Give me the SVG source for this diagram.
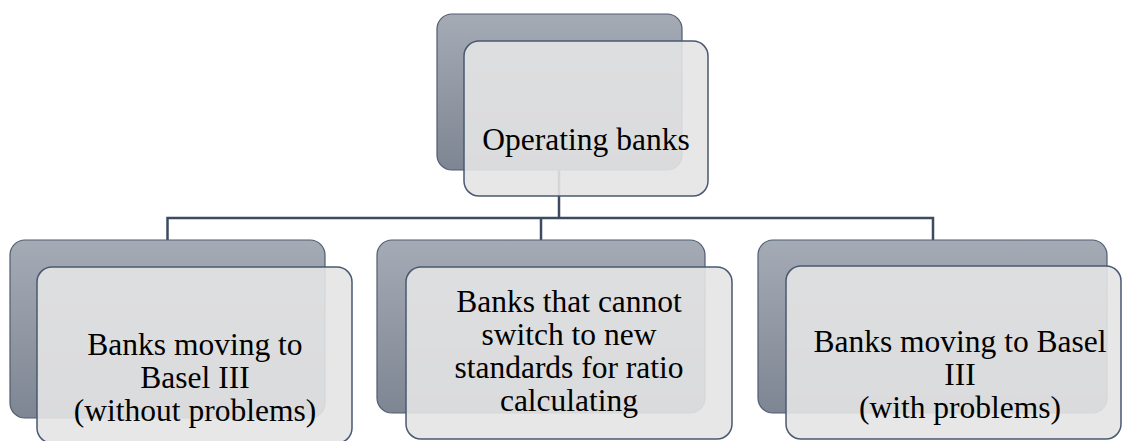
<svg xmlns="http://www.w3.org/2000/svg" width="1123" height="441" viewBox="0 0 1123 441">
  <defs>
    <linearGradient id="backGrad" x1="0" y1="0" x2="0" y2="1">
      <stop offset="0" stop-color="#a5abb5"/>
      <stop offset="1" stop-color="#7e8693"/>
    </linearGradient>
    <style>
      .back { fill: url(#backGrad); stroke: #4f5c70; stroke-width: 1.2; }
      .front { fill: #e4e4e4; fill-opacity: 0.9; stroke: #4a5972; stroke-width: 1.5; }
      .conn { fill: none; stroke: #3d4b62; stroke-width: 2.5; }
      .label { font-family: 'Liberation Serif', 'Times New Roman', serif; font-size: 31.5px; fill: #000; text-anchor: middle; }
    </style>
  </defs>
  <rect width="1123" height="441" fill="#ffffff"/>
  <g id="connectors">
    <path class="conn" d="M559,170 V218"/>
    <path class="conn" d="M167.5,240 V218 H933 V240"/>
    <path class="conn" d="M541,218 V240"/>
  </g>
  <g id="node-operating">
    <rect class="back" x="437" y="14" width="245" height="156" rx="15"/>
    <rect class="front" x="464" y="41" width="244" height="155" rx="15"/>
    <text class="label" x="586" y="150">Operating banks</text>
  </g>
  <g id="node-without">
    <rect class="back" x="10" y="240" width="315" height="178" rx="15"/>
    <rect class="front" x="37" y="267" width="315" height="176" rx="15"/>
    <text class="label" x="195" y="355">Banks moving to</text>
    <text class="label" x="195" y="388">Basel III</text>
    <text class="label" x="195" y="421">(without problems)</text>
  </g>
  <g id="node-cannot">
    <rect class="back" x="377" y="240" width="328" height="173" rx="15"/>
    <rect class="front" x="406" y="267" width="326" height="172" rx="15"/>
    <text class="label" x="569" y="312">Banks that cannot</text>
    <text class="label" x="569" y="345">switch to new</text>
    <text class="label" x="569" y="378">standards for ratio</text>
    <text class="label" x="569" y="411">calculating</text>
  </g>
  <g id="node-with">
    <rect class="back" x="758" y="240" width="349" height="173" rx="15"/>
    <rect class="front" x="786" y="266" width="335" height="173" rx="15"/>
    <text class="label" x="960" y="352">Banks moving to Basel</text>
    <text class="label" x="960" y="385">III</text>
    <text class="label" x="960" y="418">(with problems)</text>
  </g>
</svg>
